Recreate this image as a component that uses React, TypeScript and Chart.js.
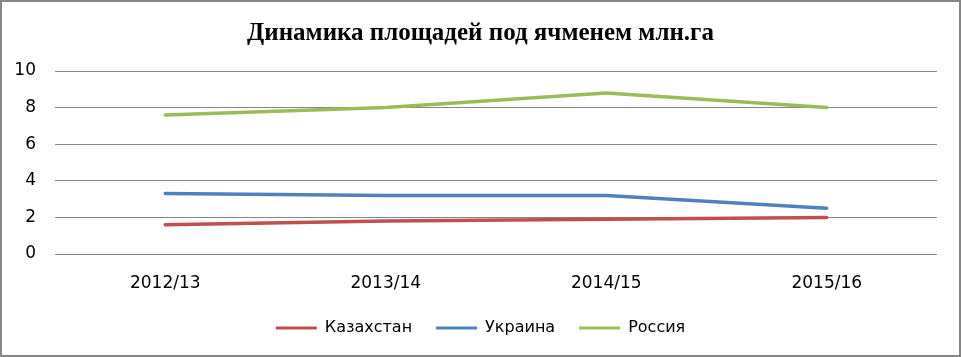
import React, { useEffect, useRef } from "react";
import { Chart, registerables } from "chart.js";

Chart.register(...registerables);

const categories = ["2012/13", "2013/14", "2014/15", "2015/16"];
const kazakhstan = [1.6, 1.8, 1.9, 2.0];
const ukraine = [3.3, 3.2, 3.2, 2.5];
const russia = [7.6, 8.0, 8.8, 8.0];
const yTicks = [0, 2, 4, 6, 8, 10];

const SANS = "'DejaVu Sans', 'Liberation Sans', sans-serif";

const borderPlugin = {
  id: "frame",
  afterDraw(chart: any) {
    const ctx = chart.ctx;
    ctx.save();
    ctx.strokeStyle = "#868686";
    ctx.lineWidth = 2;
    ctx.strokeRect(1, 1, chart.width - 2, chart.height - 2);
    ctx.restore();
  },
};

export default function App() {
  const ref = useRef<HTMLCanvasElement>(null);
  useEffect(() => {
    document.body.style.margin = "0";
    const chart = new Chart(ref.current!, {
      type: "line",
      data: {
        labels: categories,
        datasets: [
          { label: "Казахстан", data: kazakhstan, borderColor: "#C0504D", backgroundColor: "#C0504D" },
          { label: "Украина", data: ukraine, borderColor: "#4F81BD", backgroundColor: "#4F81BD" },
          { label: "Россия", data: russia, borderColor: "#9BBB59", backgroundColor: "#9BBB59" },
        ].map((d) => ({ ...d, borderWidth: 3.5, pointRadius: 0, tension: 0, borderCapStyle: "round" as const })),
      },
      options: {
        animation: false,
        responsive: true,
        maintainAspectRatio: false,
        layout: { padding: { left: 0, right: 0, top: 8, bottom: 11 } },
        plugins: {
          title: {
            display: true,
            text: "Динамика площадей под ячменем млн.га",
            color: "#000",
            font: { family: "'Liberation Serif', 'Times New Roman', serif", size: 25, weight: "bold" },
            padding: { top: 11, bottom: 22 },
          },
          legend: {
            position: "bottom",
            labels: {
              color: "#000",
              font: { family: SANS, size: 16 },
              boxWidth: 41,
              boxHeight: 3,
              padding: 24,
              generateLabels: (c: any) =>
                c.data.datasets.map((ds: any, i: number) => ({
                  text: ds.label,
                  fillStyle: ds.borderColor,
                  strokeStyle: ds.borderColor,
                  lineWidth: 0,
                  hidden: false,
                  datasetIndex: i,
                  fontColor: "#000",
                })),
            },
          },
          tooltip: { enabled: false },
        },
        scales: {
          x: {
            offset: true,
            afterFit: (s: any) => {
              s.height = 42;
            },
            grid: { display: false, drawTicks: false },
            border: { display: false },
            ticks: { color: "#000", font: { family: SANS, size: 17 }, padding: 19 },
          },
          y: {
            min: 0,
            max: 10,
            afterBuildTicks: (s: any) => {
              s.ticks = yTicks.map((v) => ({ value: v }));
            },
            afterFit: (s: any) => {
              s.width = 55;
            },
            grid: { color: "#868686", lineWidth: 1, drawTicks: false },
            border: { display: false },
            ticks: { color: "#000", font: { family: SANS, size: 17 }, padding: 19 },
          },
          yRight: {
            position: "right",
            display: true,
            afterFit: (s: any) => {
              s.width = 24;
            },
            grid: { display: false, drawTicks: false },
            border: { display: false },
            ticks: { display: false },
          },
        },
      },
      plugins: [borderPlugin],
    });
    return () => chart.destroy();
  }, []);
  return (
    <div style={{ width: 961, height: 357, position: "relative" }}>
      <canvas ref={ref} />
    </div>
  );
}
